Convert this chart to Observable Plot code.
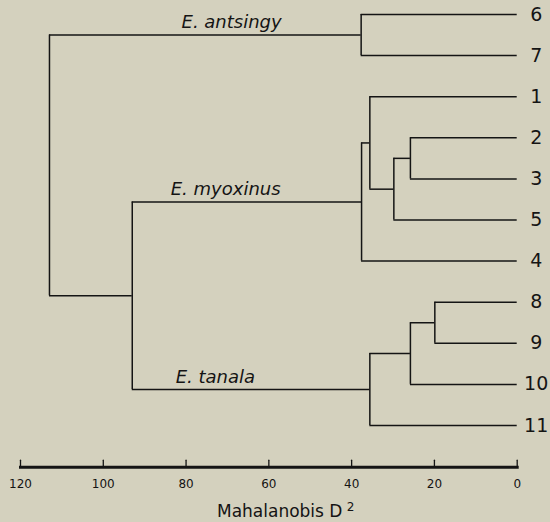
<!DOCTYPE html>
<html><head><meta charset="utf-8">
<script src="https://cdn.jsdelivr.net/npm/d3@7"></script>
<script src="https://cdn.jsdelivr.net/npm/@observablehq/plot@0.6"></script>
<style>
html,body{margin:0;padding:0;background:#d4d1be;}
#chart svg{display:block;}
</style></head><body><div id="chart"></div>
<script>
// Leaf order (top to bottom)
const leafLabels = ["6","7","1","2","3","5","4","8","9","10","11"];
// Agglomeration steps: children are leaf labels or "n<k>" (k-th merge)
const mergeLeft   = ["6","2","n1","1","n3","8","n5","n6","n4","n0"];
const mergeRight  = ["7","3","5","n2","4","9","10","11","n7","n8"];
const mergeHeight = [37.7, 25.8, 29.8, 35.6, 37.6, 19.9, 25.8, 35.6, 93.0, 113.0];
// Clade names and the merge whose stem they label
const cladeNames = ["E. antsingy", "E. myoxinus", "E. tanala"];
const cladeMerge = [0, 4, 7];
const cladeLabelAt = [81.1, 83.7, 82.5];
// Axis
const axisTicks = [120, 100, 80, 60, 40, 20, 0];
const axisTitle = "Mahalanobis D";
const axisTitleSup = "2";

// Build tree geometry in data units
const pos = {};
leafLabels.forEach((l, i) => { pos[l] = {x: 0, y: i}; });
const verticals = [], horizontals = [];
mergeHeight.forEach((h, k) => {
  const a = pos[mergeLeft[k]], b = pos[mergeRight[k]];
  const y = (a.y + b.y) / 2;
  pos["n" + k] = {x: h, y};
  verticals.push({x: h, y1: a.y, y2: b.y});
  horizontals.push({y: a.y, x1: a.x, x2: h});
  horizontals.push({y: b.y, x1: b.x, x2: h});
});
const leaves = leafLabels.map(l => ({label: l, x: 0, y: pos[l].y}));
const clades = cladeNames.map((name, i) => ({name, x: cladeLabelAt[i], y: pos["n" + cladeMerge[i]].y}));

const tickShape = {draw(context, l) { context.moveTo(0, 0); context.lineTo(0, -l); }};
const ink = "#141414";

const chart = Plot.plot({
  width: 550,
  height: 522,
  marginLeft: 20,
  marginRight: 33.3,
  marginTop: 14,
  marginBottom: 55.3,
  x: {domain: [120, 0], label: null},
  y: {domain: [0, 10], range: [14, 425], axis: null},
  style: {background: "transparent", fontFamily: "DejaVu Sans, sans-serif", color: ink},
  marks: [
    Plot.ruleY(horizontals, {y: "y", x1: "x1", x2: "x2", stroke: ink, strokeWidth: 1.5}),
    Plot.ruleX(verticals, {x: "x", y1: "y1", y2: "y2", stroke: ink, strokeWidth: 1.5}),
    Plot.text(leaves, {x: "x", y: "y", text: "label", dx: 19, fontSize: 19, fill: ink}),
    Plot.text(clades, {x: "x", y: "y", text: "name", textAnchor: "start", lineAnchor: "bottom", dy: -7, fontSize: 18, fontStyle: "italic", fill: ink}),
    Plot.frame({anchor: "bottom", stroke: ink, strokeWidth: 3}),
    Plot.vector(axisTicks, {x: d => d, frameAnchor: "bottom", length: 7, rotate: 0, anchor: "start", shape: tickShape, stroke: ink, strokeWidth: 1.3}),
    Plot.axisX(axisTicks, {tickSize: 0, tickPadding: 12, fontSize: 12, label: null, fill: ink}),
    Plot.text([axisTitle], {frameAnchor: "bottom", textAnchor: "end", lineAnchor: "bottom", dx: 73.6, dy: 49.3, fontSize: 17, fill: ink}),
    Plot.text([axisTitleSup], {frameAnchor: "bottom", textAnchor: "start", lineAnchor: "bottom", dx: 78, dy: 43.3, fontSize: 12, fill: ink})
  ]
});
document.getElementById("chart").appendChild(chart);
</script>
</body></html>
